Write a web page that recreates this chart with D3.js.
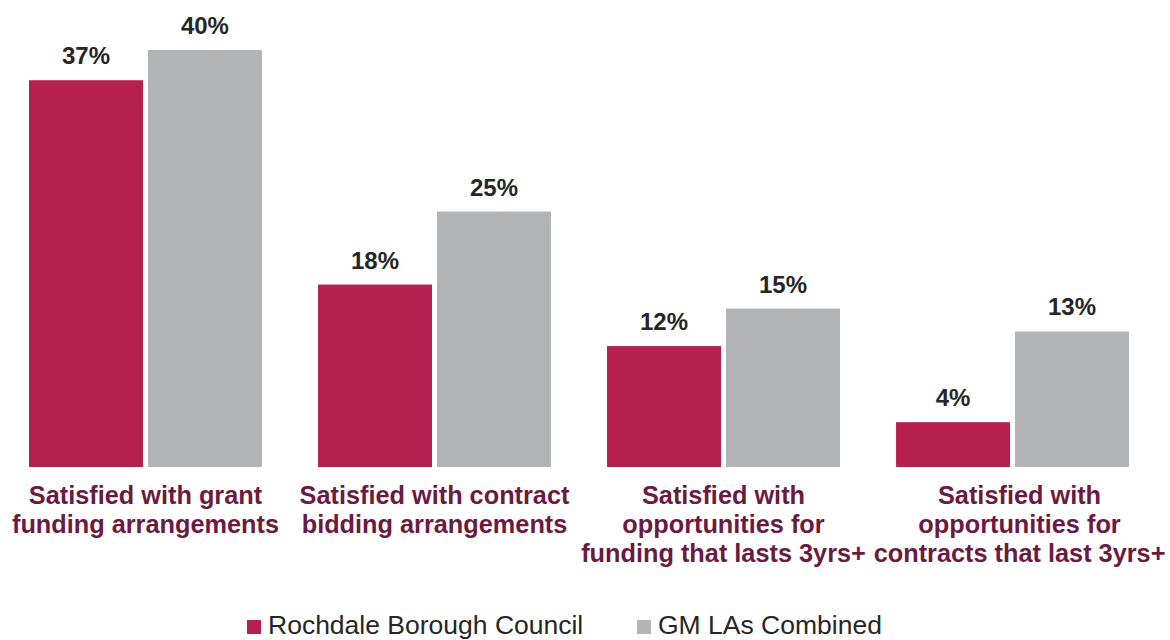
<!DOCTYPE html>
<html>
<head>
<meta charset="utf-8">
<script src="https://cdn.jsdelivr.net/npm/d3@7"></script>
<style>
  body { margin: 0; background: #fff; }
  svg { display: block; font-family: "Liberation Sans", Arial, sans-serif; }
</style>
</head>
<body>
<svg id="chart" width="1170" height="640"></svg>
<script>
const categories = [
  ["Satisfied with grant", "funding arrangements"],
  ["Satisfied with contract", "bidding arrangements"],
  ["Satisfied with", "opportunities for", "funding that lasts 3yrs+"],
  ["Satisfied with", "opportunities for", "contracts that last 3yrs+"]
];
const seriesNames = ["Rochdale Borough Council", "GM LAs Combined"];
// values; labels show the rounded figure
const rochdale = [37.1, 17.5, 11.6, 4.3];
const gmCombined = [40, 24.5, 15.2, 13.0];
const colors = ["#b71f50", "#b2b3b5"];

var svg = d3.select("#chart");
var baseline = 467;

var data = categories.map((c, i) => ({ idx: i, values: [rochdale[i], gmCombined[i]] }));

var x0 = d3.scaleBand()
  .domain(d3.range(categories.length))
  .range([29, 1129])
  .paddingInner(0.194)
  .paddingOuter(0);

var x1 = d3.scaleBand()
  .domain(d3.range(seriesNames.length))
  .range([0, x0.bandwidth()])
  .paddingInner(0.042);

var y = d3.scaleLinear()
  .domain([0, 40])
  .range([baseline, 50]);

var groups = svg.selectAll("g.group")
  .data(data)
  .enter()
  .append("g")
  .attr("class", "group")
  .attr("transform", d => `translate(${x0(d.idx)},0)`);

groups.selectAll("rect")
  .data(d => d.values.map((v, s) => ({ v: v, s: s })))
  .enter()
  .append("rect")
  .attr("x", d => x1(d.s))
  .attr("y", d => y(d.v))
  .attr("width", x1.bandwidth())
  .attr("height", d => baseline - y(d.v))
  .attr("fill", d => colors[d.s]);

groups.selectAll("text.val")
  .data(d => d.values.map((v, s) => ({ v: v, s: s })))
  .enter()
  .append("text")
  .attr("class", "val")
  .attr("x", d => x1(d.s) + x1.bandwidth() / 2)
  .attr("y", d => y(d.v) - 16)
  .attr("text-anchor", "middle")
  .attr("font-size", "24px")
  .attr("font-weight", "bold")
  .attr("fill", "#262626")
  .text(d => Math.round(d.v) + "%");

// category labels (last one nudged right so the wide lines don't touch)
groups.append("text")
  .attr("class", "cat")
  .attr("text-anchor", "middle")
  .attr("font-size", "25.3px")
  .attr("font-weight", "bold")
  .attr("fill", "#6b1a42")
  .attr("transform", d => d.idx === categories.length - 1 ? "translate(7,0)" : null)
  .selectAll("tspan")
  .data(d => categories[d.idx])
  .enter()
  .append("tspan")
  .attr("x", x0.bandwidth() / 2)
  .attr("y", (d, i) => 504 + i * 29)
  .text(d => d);

// legend
var legendX = [247, 637];
var legend = svg.append("g").attr("class", "legend");
seriesNames.forEach((name, i) => {
  legend.append("rect")
    .attr("x", legendX[i])
    .attr("y", 620)
    .attr("width", 14)
    .attr("height", 14)
    .attr("fill", colors[i]);
  legend.append("text")
    .attr("x", legendX[i] + 21)
    .attr("y", 634)
    .attr("font-size", "26.5px")
    .attr("fill", "#262626")
    .text(name);
});
</script>
</body>
</html>
